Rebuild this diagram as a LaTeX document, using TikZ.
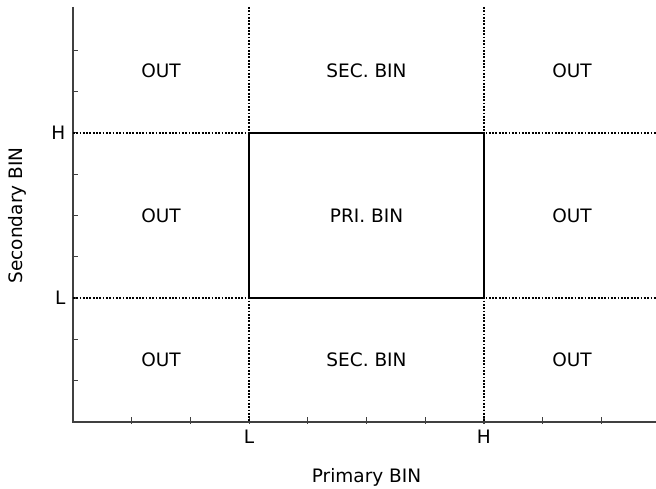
\documentclass[tikz,border=0pt]{standalone}
\usepackage{fontspec}
\setmainfont{DejaVu Sans}
\usetikzlibrary{positioning}

\begin{document}
\begin{tikzpicture}[x=58.7pt,y=41.3pt,font=\fontsize{18.5}{22}\selectfont]
\tikzset{
  axisline/.style={line width=1.2pt,black!75},
  limitline/.style={line width=1.9pt,dash pattern=on 1.8pt off 1.5pt},
  binbox/.style={line width=2.3pt}
}
\useasboundingbox (-73pt,-67pt) rectangle (583pt,422pt);
% axes and ticks
\draw[axisline] (0,10.05) -- (0,0) -- (9.93,0);
\foreach \k in {1,...,9} {
  \draw[axisline] (\k,0) ++(0,-2pt) -- ++(0,7pt);
  \draw[axisline] (0,\k) ++(-1pt,0) -- ++(6pt,0);
}
% limits
\draw[limitline] (3,10.05) -- (3,0);
\draw[limitline] (7,10.05) -- (7,0);
\draw[limitline] (0,7) -- (9.93,7);
\draw[limitline] (0,3) -- (9.93,3);
\draw[binbox] (3,3) rectangle (7,7);
% regions
\node (outtl) at (1.5,8.5) {OUT};
\node (sectop) at (5,8.5) {SEC. BIN};
\node (outtr) at (8.5,8.5) {OUT};
\node (outml) at (1.5,5) {OUT};
\node (pri) at (5,5) {PRI. BIN};
\node (outmr) at (8.5,5) {OUT};
\node (outbl) at (1.5,1.5) {OUT};
\node (secbot) at (5,1.5) {SEC. BIN};
\node (outbr) at (8.5,1.5) {OUT};
% axis labels
\node[left] (yh) at (-0.07,7) {H};
\node[left] (yl) at (-0.07,3) {L};
\node[below] (xl) at (3,-0.12) {L};
\node[below] (xh) at (7,-0.12) {H};
\node (xlab) at (5,-1.33) {Primary BIN};
\node[rotate=90] (ylab) at (-0.94,5) {Secondary BIN};
\end{tikzpicture}
\end{document}
